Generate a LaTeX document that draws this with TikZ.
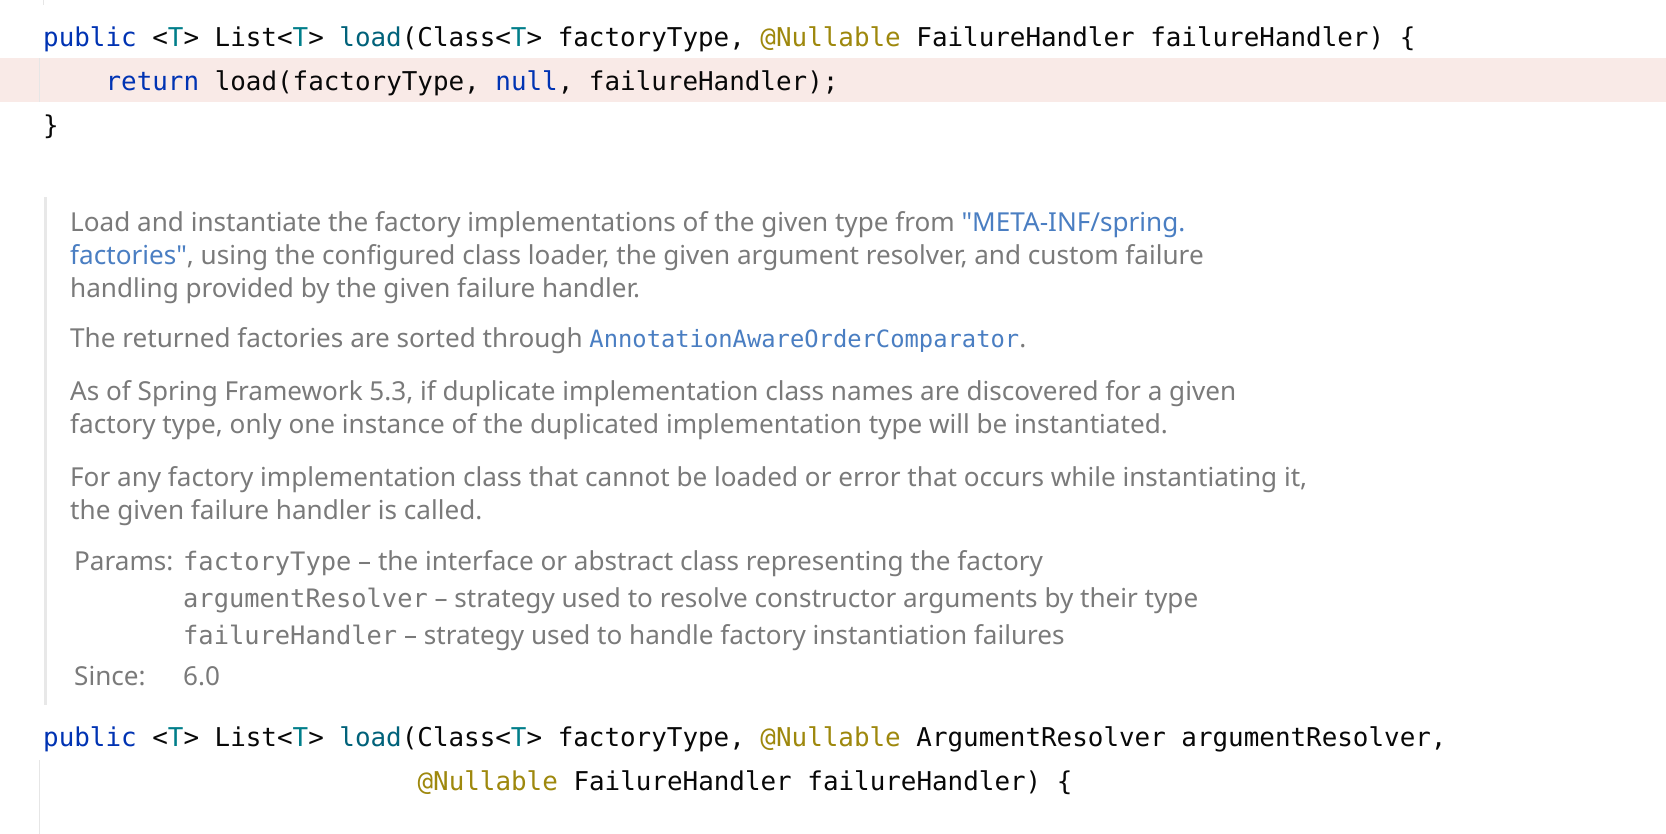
\documentclass[tikz,border=0pt]{standalone}
\usepackage{fontspec}
\usepackage{xcolor}
\setmainfont{Noto Sans}
\newfontfamily\codefont{DejaVu Sans Mono}
\newfontfamily\docfont{Noto Sans}
\definecolor{kw}{HTML}{0033B3}
\definecolor{tp}{HTML}{007E8A}
\definecolor{fn}{HTML}{00627A}
\definecolor{ann}{HTML}{9E880D}
\definecolor{codeblack}{HTML}{080808}
\definecolor{hl}{HTML}{F9EAE7}
\definecolor{guide}{HTML}{E6E6E6}
\definecolor{docbar}{HTML}{E8E8E8}
\definecolor{docgray}{HTML}{7A7A7A}
\definecolor{lnk}{HTML}{4A7EC2}
\newcommand\linkmono{\codefont\fontsize{23.8pt}{28pt}\selectfont}
\newcommand\parammono{\codefont\fontsize{25.4pt}{30pt}\selectfont}
\begin{document}
\newlength\mylen
\settowidth\mylen{\docfont\fontsize{10pt}{12pt}\selectfont For any factory implementation class that cannot be loaded or error that occurs while instantiating it,}
\pgfmathsetmacro\docsz{1237/\mylen*10}
\begin{tikzpicture}[x=1pt,y=-1pt,
  code/.style={anchor=base west, inner sep=0pt, text=codeblack, font=\codefont\fontsize{25.9pt}{30pt}\selectfont},
  doc/.style={anchor=base west, inner sep=0pt, text=docgray, font=\docfont\fontsize{\docsz pt}{\docsz pt}\selectfont}]
\useasboundingbox (0,0) rectangle (1666,834);
\fill[white] (0,0) rectangle (1666,834);
% highlight of current line
\fill[hl] (0,58) rectangle (1666,102);
% indent guides
\fill[guide] (42.5,0) rectangle (44,5);
\fill[guide] (38.5,58) rectangle (40,102);
\fill[guide] (38.5,760) rectangle (40,834);
% doc bar
\fill[docbar] (43.5,197) rectangle (46.5,705);
% code
\node[code] (c1) at (43,47) {{\color{kw}public} <{\color{tp}T}> List<{\color{tp}T}> {\color{fn}load}(Class<{\color{tp}T}> factoryType, {\color{ann}@Nullable} FailureHandler failureHandler) \{};
\node[code] (c2) at (105.4,91) {{\color{kw}return} load(factoryType, {\color{kw}null}, failureHandler);};
\node[code] (c3) at (43,135) {\}};
\node[code] (c4) at (43,746) {{\color{kw}public} <{\color{tp}T}> List<{\color{tp}T}> {\color{fn}load}(Class<{\color{tp}T}> factoryType, {\color{ann}@Nullable} ArgumentResolver argumentResolver,};
\node[code] (c5) at (417.4,790) {{\color{ann}@Nullable} FailureHandler failureHandler) \{};
% doc
\node[doc] (d1) at (70,232) {Load and instantiate the factory implementations of the given type from {\color{lnk}"META-INF/spring.}};
\node[doc] (d2) at (70,265) {{\color{lnk}factories"}, using the configured class loader, the given argument resolver, and custom failure};
\node[doc] (d3) at (70,298) {handling provided by the given failure handler.};
\node[doc] (d4) at (70,348) {The returned factories are sorted through {\color{lnk}\linkmono AnnotationAwareOrderComparator}.};
\node[doc] (d5) at (70,400) {As of Spring Framework 5.3, if duplicate implementation class names are discovered for a given};
\node[doc] (d6) at (70,433) {factory type, only one instance of the duplicated implementation type will be instantiated.};
\node[doc] (d7) at (70,486) {For any factory implementation class that cannot be loaded or error that occurs while instantiating it,};
\node[doc] (d8) at (70,519) {the given failure handler is called.};
\node[doc] (p0) at (74,570) {Params:};
\node[doc] (p1) at (183,570) {{\parammono factoryType} – the interface or abstract class representing the factory};
\node[doc] (p2) at (183,607) {{\parammono argumentResolver} – strategy used to resolve constructor arguments by their type};
\node[doc] (p3) at (183,644) {{\parammono failureHandler} – strategy used to handle factory instantiation failures};
\node[doc] (s0) at (74,685) {Since:};
\node[doc] (s1) at (183,685) {6.0};
\end{tikzpicture}
\end{document}
